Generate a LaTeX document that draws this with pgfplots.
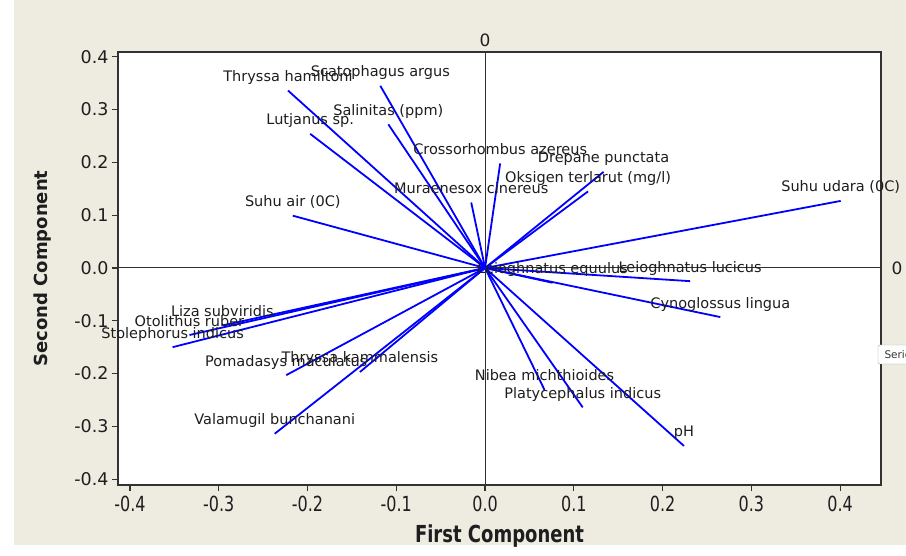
\documentclass[border=0pt]{standalone}
\usepackage{pgfplots}
\pgfplotsset{compat=1.18}
\usepackage{pgfplotstable}
\usepackage{fontspec}
\setmainfont{DejaVu Sans}
\definecolor{bg}{RGB}{238,235,225}
\definecolor{txt}{RGB}{30,30,30}
\definecolor{frame}{RGB}{50,50,50}
\definecolor{vec}{RGB}{0,0,255}

\pgfplotstableread[col sep=comma]{
x,y,label
-0.222,0.336,Thryssa hamiltoni
-0.118,0.345,Scatophagus argus
-0.109,0.272,Salinitas (ppm)
-0.197,0.254,Lutjanus sp.
0.017,0.198,Crossorhombus azereus
0.1335,0.182,Drepane punctata
0.116,0.145,Oksigen terlarut (mg/l)
-0.0156,0.124,Muraenesox cinereus
-0.2166,0.099,Suhu air (0C)
0.4006,0.127,Suhu udara (0C)
0.076,-0.028,Leioghnatus equulus
0.231,-0.025,Leioghnatus lucicus
0.265,-0.093,Cynoglossus lingua
-0.296,-0.109,Liza subviridis
-0.333,-0.127,Otolithus ruber
-0.352,-0.150,Stolephorus indicus
-0.224,-0.203,Pomadasys maculatus
-0.141,-0.197,Thryssa kammalensis
-0.237,-0.314,Valamugil bunchanani
0.067,-0.231,Nibea michthioides
0.110,-0.264,Platycephalus indicus
0.224,-0.337,pH
}\vectors

\begin{document}
\begin{tikzpicture}
\useasboundingbox (0,0) rectangle (906pt,555pt);
\fill[white] (0,0) rectangle (906pt,555pt);
\fill[bg] (14pt,10pt) rectangle (906pt,555pt);
\begin{axis}[
  at={(118pt,70pt)}, anchor=south west,
  scale only axis, width=763pt, height=433pt,
  xmin=-0.4135, xmax=0.446, ymin=-0.411, ymax=0.409,
  clip=false,
  axis background/.style={fill=white},
  axis line style={frame, line width=1.3pt},
  xtick={-0.4,-0.3,-0.2,-0.1,0,0.1,0.2,0.3,0.4},
  xticklabels={{-0.4},{-0.3},{-0.2},{-0.1},{0.0},{0.1},{0.2},{0.3},{0.4}},
  ytick={-0.4,-0.3,-0.2,-0.1,0,0.1,0.2,0.3,0.4},
  yticklabels={{-0.4},{-0.3},{-0.2},{-0.1},{0.0},{0.1},{0.2},{0.3},{0.4}},
  tick align=outside, xtick pos=lower, ytick pos=left,
  major tick length=6pt,
  tick style={frame, line width=1.2pt},
  xticklabel style={font=\fontsize{16}{16}\selectfont, text=txt, yscale=1.3},
  yticklabel style={font=\fontsize{17.5}{17.5}\selectfont, text=txt},
  xlabel={First Component},
  xlabel style={at={(axis description cs:0.5,-0.118)}, anchor=center,
    font=\bfseries\fontsize{18}{18}\selectfont, text=txt, yscale=1.3},
  ylabel={Second Component},
  ylabel style={at={(axis description cs:-0.0983,0.5)}, anchor=center,
    font=\bfseries\fontsize{18}{18}\selectfont, text=txt},
]
\draw[frame, line width=1pt] (axis cs:0,-0.411) -- (axis cs:0,0.409);
\draw[frame, line width=1pt] (axis cs:-0.4135,0) -- (axis cs:0.446,0);
\addplot[vec, line width=1.8pt, quiver={u=\thisrow{x}, v=\thisrow{y}}, -]
  table[x expr=0, y expr=0] {\vectors};
\addplot[draw=none, mark=none, nodes near coords, point meta=explicit symbolic,
  every node near coord/.append style={anchor=base, yshift=9pt, text=txt,
    font=\fontsize{14.5}{16}\selectfont, inner sep=0pt}]
  table[x=x, y=y, meta=label] {\vectors};
\node[font=\fontsize{17}{17}\selectfont, text=txt] at (axis cs:0,0.409) [yshift=12pt] {0};
\node[font=\fontsize{17}{17}\selectfont, text=txt] at (axis cs:0.446,0) [xshift=16pt] {0};
\end{axis}
\draw[draw=gray!70, fill=white, rounded corners=2pt] (878pt,191pt) rectangle (920pt,210pt);
\node[anchor=west, font=\fontsize{10.5}{10.5}\selectfont, text=gray!40!black] at (881pt,200.5pt) {Serie};
\end{tikzpicture}
\end{document}
